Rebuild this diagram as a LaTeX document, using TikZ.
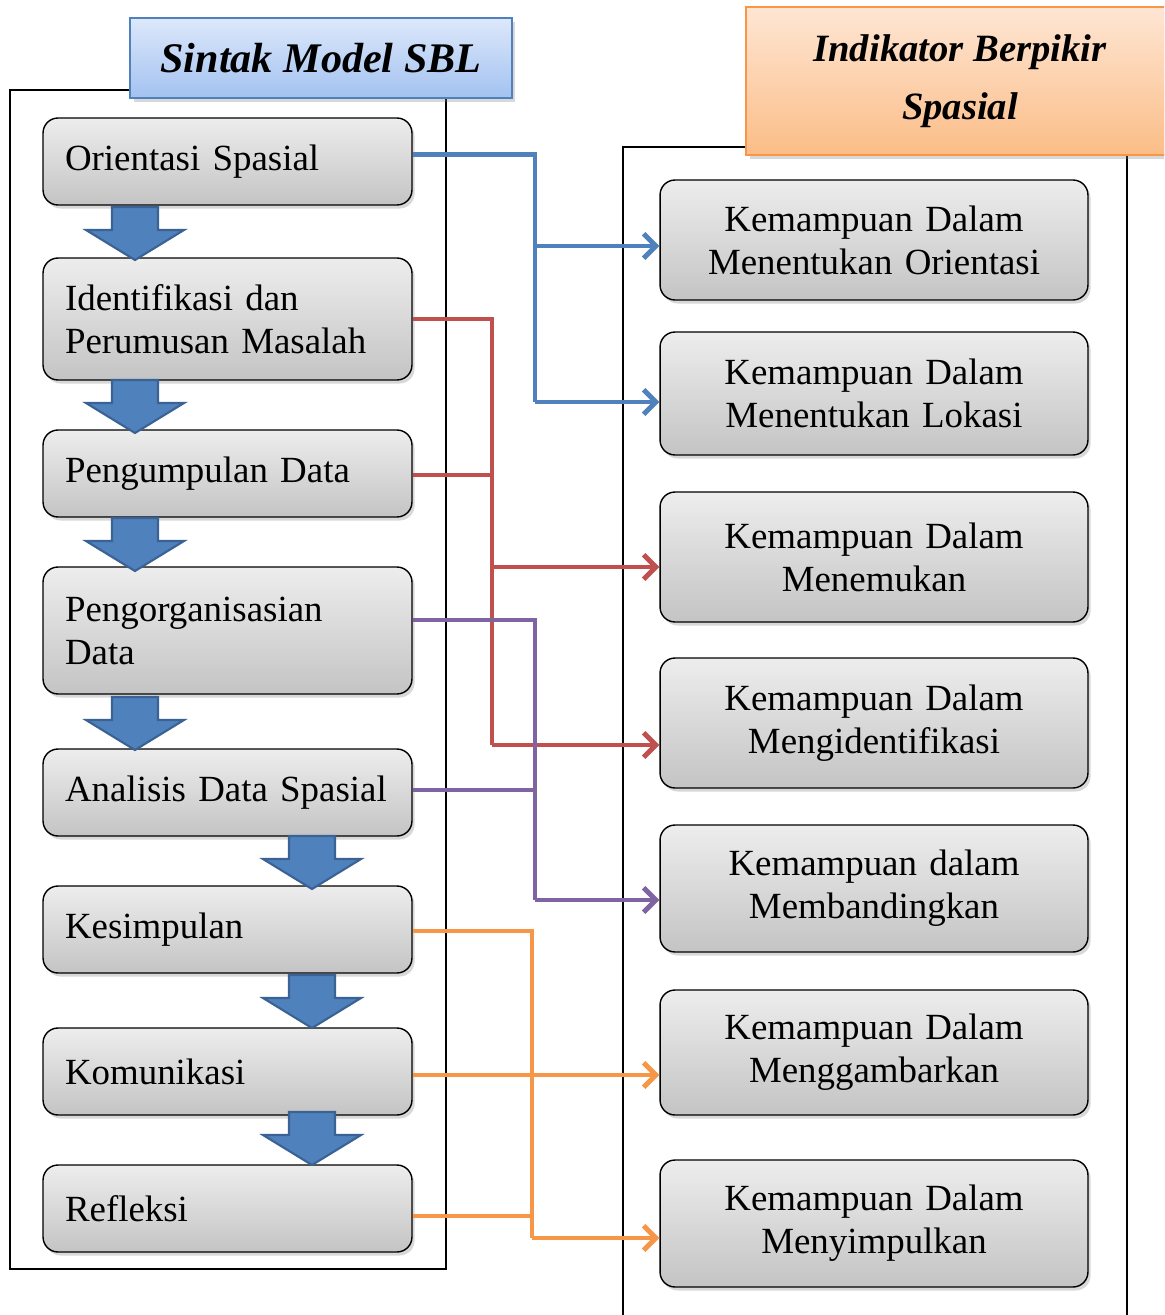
\documentclass[tikz,border=0pt]{standalone}
\usepackage{fontspec}
\setmainfont{Liberation Serif}
\usetikzlibrary{arrows.meta,shadows,calc}
\definecolor{cblue}{HTML}{4F81BD}
\definecolor{cblueD}{HTML}{3A6294}
\definecolor{cred}{HTML}{C0504D}
\definecolor{cpurple}{HTML}{8064A2}
\definecolor{corange}{HTML}{F79646}
\definecolor{boxtop}{HTML}{EDEDED}
\definecolor{boxbot}{HTML}{C4C4C4}
\definecolor{hbtop}{HTML}{DDE8FA}
\definecolor{hbbot}{HTML}{A3C2F1}
\definecolor{hotop}{HTML}{FEE6D4}
\definecolor{hobot}{HTML}{FBBD87}
\begin{document}
\begin{tikzpicture}[x=0.02cm,y=-0.02cm,
  boxbase/.style={draw=black, line width=0.8pt, rounded corners=0.3cm,
    top color=boxtop, bottom color=boxbot,
    drop shadow={shadow xshift=1.5pt,shadow yshift=-2pt,opacity=0.3},
    font=\fontsize{21}{24.5}\selectfont},
  lbox/.style={boxbase, minimum width=7.38cm, text width=6.5cm, inner xsep=0.44cm, align=left},
  rbox/.style={boxbase, minimum width=8.56cm, text width=8cm, inner xsep=0.28cm, align=center},
  hdr/.style={line width=1pt, drop shadow={shadow xshift=2pt,shadow yshift=-2.5pt,opacity=0.3},
    font=\fontsize{24}{33}\selectfont\bfseries\itshape, align=center},
  frame/.style={line width=0.8pt, black},
  conn/.style={line width=2.8pt, line join=miter},
  tip/.style={conn, -{Straight Barb[length=7pt,width=14pt]}},
  barrow/.pic={\draw[fill=cblue, draw=cblueD, line width=1.2pt, line join=miter]
     (-23,0) -- (23,0) -- (23,23) -- (49,23) -- (0,53) -- (-49,23) -- (-23,23) -- cycle;}
]
\clip (0,0) rectangle (1164,1315);
\fill[white] (0,0) rectangle (1164,1315);

% frames
\draw[frame] (130,90) -- (10,90) -- (10,1269) -- (446,1269) -- (446,98);
\draw[frame] (746,147) -- (623,147) -- (623,1320);
\draw[frame] (1127,155) -- (1127,1320);

% headers
\node[hdr, draw=cblue, top color=hbtop, bottom color=hbbot, minimum width=7.64cm, minimum height=1.6cm] (hl) at (321,58) {Sintak Model SBL};
\node[hdr, draw=corange, top color=hotop, bottom color=hobot, minimum width=8.56cm, minimum height=2.96cm,
  font=\fontsize{22}{33}\selectfont\bfseries\itshape] (hr) at (960,81) {Indikator Berpikir\\Spasial};

% left boxes
\node[lbox, minimum height=1.74cm] (l1) at (227.5,161.5) {Orientasi Spasial};
\node[lbox, minimum height=2.44cm] (l2) at (227.5,319) {Identifikasi dan\\Perumusan Masalah};
\node[lbox, minimum height=1.74cm] (l3) at (227.5,473.5) {Pengumpulan Data};
\node[lbox, minimum height=2.54cm] (l4) at (227.5,630.5) {Pengorganisasian\\Data};
\node[lbox, minimum height=1.74cm] (l5) at (227.5,792.5) {Analisis Data Spasial};
\node[lbox, minimum height=1.74cm] (l6) at (227.5,929.5) {Kesimpulan};
\node[lbox, minimum height=1.74cm] (l7) at (227.5,1071.5) {Komunikasi};
\node[lbox, minimum height=1.74cm] (l8) at (227.5,1208.5) {Refleksi};

% right boxes
\node[rbox, minimum height=2.4cm] (r1) at (874,240) {Kemampuan Dalam\\Menentukan Orientasi};
\node[rbox, minimum height=2.46cm] (r2) at (874,393.5) {Kemampuan Dalam\\Menentukan Lokasi};
\node[rbox, minimum height=2.6cm] (r3) at (874,557) {Kemampuan Dalam\\Menemukan};
\node[rbox, minimum height=2.6cm] (r4) at (874,723) {Kemampuan Dalam\\Mengidentifikasi};
\node[rbox, minimum height=2.54cm] (r5) at (874,888.5) {Kemampuan dalam\\Membandingkan};
\node[rbox, minimum height=2.5cm] (r6) at (874,1052.5) {Kemampuan Dalam\\Menggambarkan};
\node[rbox, minimum height=2.54cm] (r7) at (874,1223.5) {Kemampuan Dalam\\Menyimpulkan};

% block arrows
\pic at (135,207) {barrow};
\pic at (135,380) {barrow};
\pic at (135,518) {barrow};
\pic at (135,697) {barrow};
\pic at (312,836) {barrow};
\pic at (312,975) {barrow};
\pic at (312,1112) {barrow};

% junction columns
\coordinate (bx) at (535,0);
\coordinate (rx) at (492,0);
\coordinate (px) at (535,0);
\coordinate (ox) at (532,0);

% blue
\coordinate (b0) at ($(l1.east)+(0,-7)$);
\coordinate (b1) at ($(r1.west)+(0,6)$);
\coordinate (b2) at ($(r2.west)+(0,8.5)$);
\draw[conn, cblue] (b0) -- (b0 -| bx) -- (b2 -| bx);
\draw[tip, cblue] (b1 -| bx) -- (b1);
\draw[tip, cblue] (b2 -| bx) -- (b2);

% red
\coordinate (c3) at ($(r3.west)+(0,10)$);
\coordinate (c4) at ($(r4.west)+(0,22)$);
\coordinate (c0) at ($(l3.east)+(0,1.5)$);
\draw[conn, cred] (l2.east) -- (l2.east -| rx) -- (c4 -| rx);
\draw[conn, cred] (c0) -- (c0 -| rx);
\draw[tip, cred] (c3 -| rx) -- (c3);
\draw[tip, cred] (c4 -| rx) -- (c4);

% purple
\coordinate (p0) at ($(l4.east)+(0,-10.5)$);
\coordinate (p1) at ($(l5.east)+(0,-2.5)$);
\coordinate (p2) at ($(r5.west)+(0,11.5)$);
\draw[conn, cpurple] (p0) -- (p0 -| px) -- (p2 -| px);
\draw[conn, cpurple] (p1) -- (p1 -| px);
\draw[tip, cpurple] (p2 -| px) -- (p2);

% orange
\coordinate (o0) at ($(l6.east)+(0,1.5)$);
\coordinate (o1) at ($(l7.east)+(0,3.5)$);
\coordinate (o2) at ($(l8.east)+(0,7.5)$);
\coordinate (o3) at ($(r6.west)+(0,22.5)$);
\coordinate (o4) at ($(r7.west)+(0,14.5)$);
\draw[conn, corange] (o0) -- (o0 -| ox) -- (o4 -| ox);
\draw[conn, corange] (o1) -- (o1 -| ox);
\draw[conn, corange] (o2) -- (o2 -| ox);
\draw[tip, corange] (o3 -| ox) -- (o3);
\draw[tip, corange] (o4 -| ox) -- (o4);
\end{tikzpicture}
\end{document}
